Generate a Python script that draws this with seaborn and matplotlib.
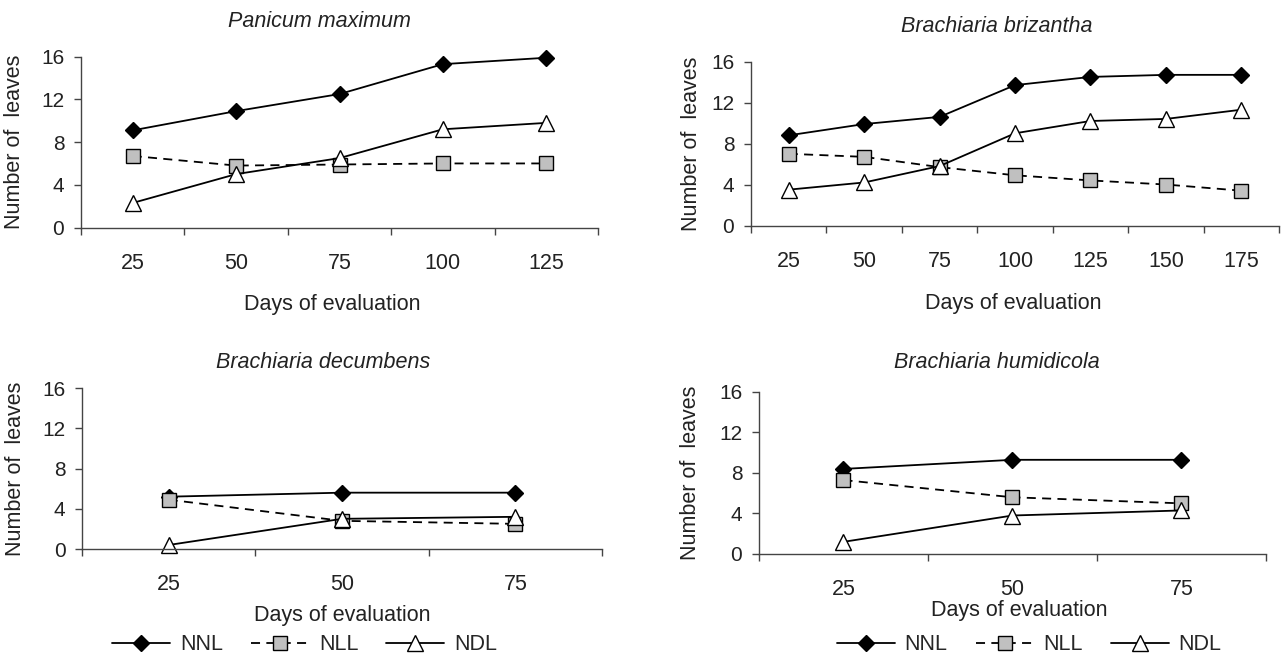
import matplotlib
matplotlib.use("Agg")
import matplotlib.pyplot as plt
import numpy as np
import seaborn as sns

# data (number of leaves per evaluation day)
days_pm = [25, 50, 75, 100, 125]
nnl_pm = [9.1, 10.9, 12.5, 15.3, 15.9]
nll_pm = [6.7, 5.8, 5.9, 6.0, 6.0]
ndl_pm = [2.3, 5.0, 6.5, 9.2, 9.8]

days_bb = [25, 50, 75, 100, 125, 150, 175]
nnl_bb = [8.8, 9.9, 10.6, 13.7, 14.5, 14.7, 14.7]
nll_bb = [7.0, 6.7, 5.7, 4.9, 4.4, 4.0, 3.4]
ndl_bb = [3.5, 4.2, 5.8, 9.0, 10.2, 10.4, 11.3]

days_bd = [25, 50, 75]
nnl_bd = [5.2, 5.6, 5.6]
nll_bd = [4.9, 2.8, 2.5]
ndl_bd = [0.4, 3.0, 3.2]

days_bh = [25, 50, 75]
nnl_bh = [8.4, 9.3, 9.3]
nll_bh = [7.3, 5.6, 5.0]
ndl_bh = [1.2, 3.8, 4.3]

series_names = ["NNL", "NLL", "NDL"]

sns.set_theme(style="white")
plt.rcParams["font.family"] = ["Liberation Sans", "DejaVu Sans"]

fig = plt.figure(figsize=(12.86, 6.56), dpi=100)

ink = "#222222"
styles = {
    "NNL": dict(marker="D", markersize=8.0, markerfacecolor="black", linestyle="-"),
    "NLL": dict(marker="s", markersize=10.5, markerfacecolor="#c0c0c0", linestyle=(0, (5, 3.5))),
    "NDL": dict(marker="^", markersize=11, markerfacecolor="white", linestyle="-"),
}

panels = [
    dict(title="Panicum maximum", days=days_pm, vals=[nnl_pm, nll_pm, ndl_pm],
         rect=[0.063, 0.6532, 0.402, 0.2604], title_xy=(0.462, 1.206),
         xlab_xy=(0.486, -0.39), ylab_x=-0.108, legend=None),
    dict(title="Brachiaria brizantha", days=days_bb, vals=[nnl_bb, nll_bb, ndl_bb],
         rect=[0.584, 0.6562, 0.4106, 0.25], title_xy=(0.465, 1.215),
         xlab_xy=(0.496, -0.41), ylab_x=-0.093, legend=None),
    dict(title="Brachiaria decumbens", days=days_bd, vals=[nnl_bd, nll_bd, ndl_bd],
         rect=[0.0638, 0.1631, 0.4044, 0.2454], title_xy=(0.463, 1.158),
         xlab_xy=(0.5, -0.35), ylab_x=-0.108, legend=(0.428, -0.596)),
    dict(title="Brachiaria humidicola", days=days_bh, vals=[nnl_bh, nll_bh, ndl_bh],
         rect=[0.5902, 0.1555, 0.3942, 0.247], title_xy=(0.469, 1.182),
         xlab_xy=(0.513, -0.285), ylab_x=-0.114, legend=(0.533, -0.56)),
]

for p in panels:
    ax = fig.add_axes(p["rect"])
    n = len(p["days"])
    pos = np.arange(n)
    for name, vals in zip(series_names, p["vals"]):
        st = styles[name]
        sns.lineplot(x=pos, y=vals, ax=ax, color="black", lw=1.3,
                     marker=st["marker"], markersize=st["markersize"],
                     markerfacecolor=st["markerfacecolor"], markeredgecolor="black",
                     markeredgewidth=1.0, linestyle=st["linestyle"], label=name,
                     legend=False, clip_on=False)

    ax.set_xlim(-0.5, n - 0.5)
    ax.set_ylim(0, 16)
    ax.set_yticks([0, 4, 8, 12, 16])
    ax.set_xticks(pos)
    ax.set_xticklabels([str(d) for d in p["days"]])
    ax.set_xticks(np.arange(n + 1) - 0.5, minor=True)
    ax.tick_params(axis="x", which="major", length=0, pad=18, labelsize=15.5, colors=ink)
    ax.tick_params(axis="x", which="minor", length=5, width=1, direction="out",
                   bottom=True, color="#444444")
    ax.tick_params(axis="y", length=5, width=1, direction="out", left=True,
                   pad=7, labelsize=15, colors=ink)
    ax.tick_params(axis="y", color="#444444")

    for side in ["top", "right"]:
        ax.spines[side].set_visible(False)
    for side in ["left", "bottom"]:
        ax.spines[side].set_color("#444444")
        ax.spines[side].set_linewidth(1.0)

    ax.text(p["title_xy"][0], p["title_xy"][1], p["title"], transform=ax.transAxes,
            ha="center", va="center", fontsize=15.5, style="italic", color=ink)
    ax.set_xlabel("Days of evaluation", fontsize=15.5, color=ink)
    ax.xaxis.set_label_coords(*p["xlab_xy"])
    ax.set_ylabel("Number of  leaves", fontsize=15.5, color=ink)
    ax.yaxis.set_label_coords(p["ylab_x"], 0.5)

    if p["legend"] is not None:
        handles, labels = ax.get_legend_handles_labels()
        ax.legend(handles, labels, loc="center", bbox_to_anchor=p["legend"], ncol=3,
                  frameon=False, fontsize=15.5, handlelength=2.7, handletextpad=0.45,
                  columnspacing=1.3, borderaxespad=0, borderpad=0)

fig.savefig("out.png", dpi=100, facecolor="white")
